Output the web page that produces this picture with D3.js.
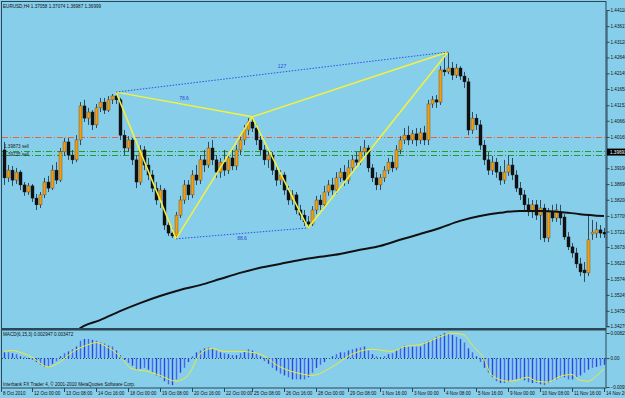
<!DOCTYPE html>
<html>
<head>
<meta charset="utf-8">
<script src="https://cdn.jsdelivr.net/npm/d3@7"></script>
<style>
  body { margin: 0; background: #87ceeb; }
  svg { display: block; font-family: "Liberation Sans", Arial, sans-serif; }
</style>
</head>
<body>
<svg id="chart" width="625" height="398"></svg>
<script>
// EURUSD H4 bars, [open, high, low, close]
const bars = [
  [1.3976,1.4001,1.3867,1.3889],[1.3889,1.3929,1.3876,1.3913],[1.3913,1.3926,1.3864,1.3882],[1.3882,1.3920,1.3870,1.3907],
  [1.3907,1.3913,1.3851,1.3867],[1.3867,1.3876,1.3833,1.3845],[1.3845,1.3873,1.3836,1.3864],[1.3864,1.3870,1.3814,1.3826],
  [1.3826,1.3839,1.3789,1.3805],[1.3805,1.3845,1.3795,1.3836],[1.3836,1.3889,1.3826,1.3876],[1.3876,1.3895,1.3845,1.3857],
  [1.3857,1.3929,1.3851,1.3913],[1.3913,1.3938,1.3870,1.3882],[1.3882,1.3982,1.3876,1.3970],[1.3970,1.4013,1.3957,1.4001],
  [1.4001,1.4013,1.3945,1.3960],[1.3960,1.3976,1.3932,1.3945],[1.3945,1.4022,1.3938,1.4007],[1.4007,1.4125,1.3991,1.4113],
  [1.4113,1.4132,1.4063,1.4075],[1.4075,1.4107,1.4054,1.4094],[1.4094,1.4100,1.4038,1.4054],[1.4054,1.4119,1.4044,1.4107],
  [1.4107,1.4138,1.4094,1.4125],[1.4125,1.4138,1.4088,1.4100],[1.4100,1.4144,1.4094,1.4132],[1.4132,1.4150,1.4119,1.4144],
  [1.4144,1.4156,1.4119,1.4132],[1.4132,1.4138,1.4007,1.4022],[1.4022,1.4038,1.3960,1.3982],[1.3982,1.4019,1.3970,1.4007],
  [1.4007,1.4013,1.3929,1.3945],[1.3945,1.3960,1.3857,1.3876],[1.3876,1.3991,1.3867,1.3976],[1.3976,1.3988,1.3913,1.3929],
  [1.3929,1.3951,1.3882,1.3898],[1.3898,1.3913,1.3845,1.3857],[1.3857,1.3876,1.3805,1.3820],[1.3820,1.3867,1.3795,1.3851],
  [1.3851,1.3857,1.3727,1.3742],[1.3742,1.3758,1.3708,1.3717],[1.3717,1.3733,1.3702,1.3708],[1.3708,1.3783,1.3699,1.3773],
  [1.3773,1.3833,1.3764,1.3820],[1.3820,1.3882,1.3808,1.3867],[1.3867,1.3882,1.3820,1.3836],[1.3836,1.3913,1.3826,1.3898],
  [1.3898,1.3929,1.3867,1.3882],[1.3882,1.3960,1.3870,1.3945],[1.3945,1.3976,1.3907,1.3929],[1.3929,1.4001,1.3920,1.3982],
  [1.3982,1.4007,1.3929,1.3945],[1.3945,1.3960,1.3889,1.3907],[1.3907,1.3951,1.3889,1.3938],[1.3938,1.3976,1.3895,1.3913],
  [1.3913,1.3963,1.3901,1.3951],[1.3951,1.3976,1.3913,1.3926],[1.3926,1.3991,1.3913,1.3976],[1.3976,1.4022,1.3960,1.4007],
  [1.4007,1.4054,1.3991,1.4038],[1.4038,1.4075,1.4022,1.4063],[1.4063,1.4079,1.4032,1.4044],[1.4044,1.4057,1.3991,1.4007],
  [1.4007,1.4019,1.3960,1.3976],[1.3976,1.3991,1.3929,1.3945],[1.3945,1.3976,1.3920,1.3960],[1.3960,1.3970,1.3898,1.3913],
  [1.3913,1.3926,1.3864,1.3882],[1.3882,1.3913,1.3867,1.3898],[1.3898,1.3907,1.3836,1.3851],[1.3851,1.3864,1.3805,1.3820],
  [1.3820,1.3851,1.3805,1.3836],[1.3836,1.3845,1.3776,1.3789],[1.3789,1.3805,1.3758,1.3773],[1.3773,1.3789,1.3739,1.3752],
  [1.3752,1.3770,1.3733,1.3745],[1.3745,1.3801,1.3739,1.3789],[1.3789,1.3833,1.3776,1.3820],[1.3820,1.3836,1.3789,1.3805],
  [1.3805,1.3864,1.3795,1.3845],[1.3845,1.3882,1.3833,1.3867],[1.3867,1.3889,1.3836,1.3851],[1.3851,1.3907,1.3839,1.3889],
  [1.3889,1.3920,1.3876,1.3907],[1.3907,1.3929,1.3864,1.3882],[1.3882,1.3945,1.3870,1.3920],[1.3920,1.3960,1.3907,1.3945],
  [1.3945,1.3970,1.3926,1.3938],[1.3938,1.3988,1.3929,1.3970],[1.3970,1.4007,1.3957,1.3982],[1.3982,1.3991,1.3907,1.3920],
  [1.3920,1.3932,1.3876,1.3889],[1.3889,1.3907,1.3851,1.3867],[1.3867,1.3901,1.3851,1.3889],[1.3889,1.3926,1.3876,1.3913],
  [1.3913,1.3951,1.3901,1.3938],[1.3938,1.3957,1.3907,1.3920],[1.3920,1.3991,1.3913,1.3976],[1.3976,1.4019,1.3963,1.4007],
  [1.4007,1.4044,1.3994,1.4022],[1.4022,1.4051,1.3991,1.4007],[1.4007,1.4038,1.3994,1.4026],[1.4026,1.4044,1.3988,1.4007],
  [1.4007,1.4044,1.3994,1.4029],[1.4029,1.4051,1.3991,1.4007],[1.4007,1.4132,1.3991,1.4119],[1.4119,1.4144,1.4107,1.4132],
  [1.4132,1.4147,1.4107,1.4125],[1.4125,1.4237,1.4116,1.4225],[1.4225,1.4272,1.4206,1.4219],[1.4219,1.4281,1.4212,1.4231],
  [1.4231,1.4250,1.4194,1.4209],[1.4209,1.4244,1.4200,1.4231],[1.4231,1.4237,1.4194,1.4206],[1.4206,1.4219,1.4169,1.4188],
  [1.4188,1.4200,1.4022,1.4038],[1.4038,1.4094,1.4026,1.4075],[1.4075,1.4088,1.4038,1.4054],[1.4054,1.4069,1.3976,1.3991],
  [1.3991,1.4007,1.3929,1.3945],[1.3945,1.3970,1.3898,1.3913],[1.3913,1.3957,1.3898,1.3938],[1.3938,1.3951,1.3889,1.3907],
  [1.3907,1.3926,1.3867,1.3882],[1.3882,1.3945,1.3870,1.3907],[1.3907,1.3960,1.3895,1.3929],[1.3929,1.3951,1.3882,1.3898],
  [1.3898,1.3913,1.3845,1.3857],[1.3857,1.3876,1.3820,1.3836],[1.3836,1.3851,1.3789,1.3805],[1.3805,1.3826,1.3770,1.3783],
  [1.3783,1.3820,1.3764,1.3805],[1.3805,1.3820,1.3758,1.3773],[1.3773,1.3820,1.3696,1.3795],[1.3795,1.3808,1.3689,1.3702],
  [1.3702,1.3795,1.3689,1.3783],[1.3783,1.3805,1.3752,1.3764],[1.3764,1.3808,1.3752,1.3789],[1.3783,1.3805,1.3742,1.3764],
  [1.3767,1.3776,1.3696,1.3705],[1.3705,1.3720,1.3664,1.3674],[1.3674,1.3686,1.3640,1.3655],[1.3655,1.3671,1.3608,1.3621],
  [1.3621,1.3640,1.3583,1.3596],[1.3602,1.3627,1.3565,1.3593],[1.3593,1.3773,1.3583,1.3696],[1.3714,1.3758,1.3696,1.3720],
  [1.3717,1.3752,1.3702,1.3727],[1.3727,1.3742,1.3702,1.3717],[1.3720,1.3733,1.3702,1.3714]
];

// moving average, read at sample bars
const maBar = [18,20,24,29,34,39,44,49,54,59,64,69,74,79,84,89,94,99,104,109,114,119,124,129,134,139,144,150];
const maVal = [1.3412,1.3428,1.3446,1.3474,1.3499,1.3521,1.3540,1.3555,1.3574,1.3593,1.3609,1.3621,1.3633,1.3643,
  1.3652,1.3665,1.3677,1.3696,1.3714,1.3733,1.3755,1.3770,1.3780,1.3786,1.3786,1.3783,1.3776,1.3770];

// MACD(6,15,3) histogram per bar
const macdHist = [
  .0019,.0019,.0016,.0013,.0006,.0003,-.0003,-.0006,-.0013,-.0022,
  -.0029,-.0029,-.0019,-.0010,.0006,.0016,.0022,.0029,.0038,.0057,
  .0063,.0063,.0060,.0057,.0051,.0048,.0041,.0038,.0025,.0010,
  -.0006,-.0016,-.0025,-.0038,-.0035,-.0032,-.0038,-.0048,-.0057,-.0063,
  -.0076,-.0086,-.0089,-.0070,-.0048,-.0032,-.0013,.0006,.0019,.0025,
  .0032,.0035,.0032,.0025,.0019,.0016,.0013,.0010,.0010,.0016,
  .0022,.0029,.0025,.0016,.0006,-.0010,-.0019,-.0032,-.0041,-.0051,
  -.0057,-.0063,-.0070,-.0070,-.0070,-.0070,-.0063,-.0048,-.0032,-.0022,
  -.0013,0,.0006,.0013,.0019,.0019,.0025,.0029,.0032,.0035,
  .0038,.0025,.0013,.0006,.0003,.0006,.0013,.0016,.0025,.0035,
  .0041,.0038,.0038,.0038,.0038,.0051,.0057,.0063,.0070,.0076,
  .0082,.0082,.0076,.0070,.0063,.0051,.0032,.0019,.0006,-.0013,
  -.0032,-.0048,-.0063,-.0076,-.0082,-.0082,-.0079,-.0073,-.0070,-.0070,
  -.0073,-.0079,-.0082,-.0082,-.0086,-.0089,-.0082,-.0076,-.0070,-.0063,
  -.0063,-.0070,-.0070,-.0063,-.0057,-.0048,-.0038,-.0032,-.0029,-.0025,-.0022
];
// signal line, read at sample bars
const sigBar = [0,2,4,7,11,14,17,21,23,26,29,32,36,39,43,46,49,52,55,59,64,69,74,77,82,87,92,97,100,104,
  109,112,115,117,120,122,126,128,131,133,136,139,142,144,146,148,150];
const sigVal = [.0022,.0025,.0019,.0003,-.0029,-.0013,.0019,.0044,.0051,.0035,.0006,-.0035,-.0044,-.0057,-.0076,
  -.0057,.0013,.0032,.0022,.0022,.0013,-.0029,-.0051,-.0057,-.0029,.0013,.0029,.0022,.0038,.0044,
  .0070,.0082,.0076,.0044,-.0003,-.0057,-.0076,-.0073,-.0063,-.0076,-.0079,-.0060,-.0054,-.0073,-.0076,-.0060,-.0035];

// harmonic pattern points X A B C D
const patBar = [28, 43, 62, 76, 111];
const patPrice = [1.4156, 1.3699, 1.4079, 1.3733, 1.4281];

const priceTicks = [1.44118,1.43615,1.43128,1.42640,1.42145,1.41658,1.41152,1.40668,1.40165,1.39190,
  1.38696,1.38208,1.37705,1.37218,1.36738,1.36235,1.35740,1.35245,1.34750,1.34270];
const timeBar = [7,15,23,31,39,47,55,62,70,78,86,94,102,110,118,126,134,142,150];
const timeText = ["12 Oct 00:00","13 Oct 08:00","14 Oct 16:00","18 Oct 00:00","19 Oct 08:00","20 Oct 16:00",
  "22 Oct 00:00","25 Oct 08:00","26 Oct 16:00","28 Oct 00:00","29 Oct 08:00","1 Nov 16:00","3 Nov 00:00",
  "4 Nov 08:00","5 Nov 16:00","9 Nov 00:00","10 Nov 08:00","11 Nov 16:00","14 Nov 20:00"];

const redLine = 1.40165, greenLines = [1.39739, 1.39595], bidPrice = 1.39693;

const W = 625, H = 398;
const L = 2, R = 606, mainTop = 2, mainBot = 328, macdTop = 330, macdBot = 388;
const frameCol = "#2c4656", textCol = "#111", fs = 4.6;

const svg = d3.select("#chart");
const x = d3.scaleLinear().domain([-0.5, bars.length - 0.5]).range([L, R]);
const y = d3.scaleLinear().domain([1.34270, 1.44118]).range([326.2, 10]);
const ym = d3.scaleLinear().domain([-0.0095, 0.00825]).range([387, 333]);

svg.append("rect").attr("width", W).attr("height", H).attr("fill", "#87ceeb");

const defs = svg.append("defs");
defs.append("clipPath").attr("id", "clipMain").append("rect")
  .attr("x", L).attr("y", mainTop).attr("width", R - L).attr("height", mainBot - mainTop);
defs.append("clipPath").attr("id", "clipMacd").append("rect")
  .attr("x", L).attr("y", macdTop).attr("width", R - L).attr("height", macdBot - macdTop);

const main = svg.append("g").attr("clip-path", "url(#clipMain)");

// horizontal lines
main.append("line").attr("x1", L).attr("x2", R)
  .attr("y1", Math.round(y(redLine)) + 0.5).attr("y2", Math.round(y(redLine)) + 0.5)
  .attr("stroke", "#f0603a").attr("stroke-dasharray", "6,2,1,2");
main.selectAll(".gl").data(greenLines).enter().append("line")
  .attr("x1", L).attr("x2", R)
  .attr("y1", d => Math.round(y(d)) + 0.5).attr("y2", d => Math.round(y(d)) + 0.5)
  .attr("stroke", "#1f9e2a").attr("stroke-dasharray", "6,2,1,2");

// candles
const cg = main.append("g");
cg.selectAll(".wick").data(bars).enter().append("line")
  .attr("x1", (d, i) => Math.round(x(i)) + 0.5).attr("x2", (d, i) => Math.round(x(i)) + 0.5)
  .attr("y1", d => y(d[1])).attr("y2", d => y(d[2]))
  .attr("stroke", "#34495a").attr("stroke-width", 1);
cg.selectAll(".body").data(bars).enter().append("rect")
  .attr("x", (d, i) => Math.round(x(i)) - 1)
  .attr("y", d => y(Math.max(d[0], d[3])))
  .attr("width", 3)
  .attr("height", d => Math.max(1, Math.abs(y(d[0]) - y(d[3]))))
  .attr("fill", d => d[3] >= d[0] ? "#f39c12" : "#111")
  .attr("stroke", d => d[3] >= d[0] ? "#5a4a20" : "#111").attr("stroke-width", 0.4);

// moving average
main.append("path")
  .datum(maBar.map((b, i) => [b, maVal[i]]))
  .attr("d", d3.line().x(d => x(d[0])).y(d => y(d[1])).curve(d3.curveMonotoneX))
  .attr("fill", "none").attr("stroke", "#111").attr("stroke-width", 2);

// pattern
const pts = patBar.map((b, i) => [x(b), y(patPrice[i])]);
const yellowPairs = [[0,1],[1,2],[2,3],[3,4],[0,2],[2,4]];
main.selectAll(".yl").data(yellowPairs).enter().append("line")
  .attr("x1", d => pts[d[0]][0]).attr("y1", d => pts[d[0]][1])
  .attr("x2", d => pts[d[1]][0]).attr("y2", d => pts[d[1]][1])
  .attr("stroke", "#f4f23a").attr("stroke-width", 1.5);
main.selectAll(".bl").data([[0,4],[1,3]]).enter().append("line")
  .attr("x1", d => pts[d[0]][0]).attr("y1", d => pts[d[0]][1])
  .attr("x2", d => pts[d[1]][0]).attr("y2", d => pts[d[1]][1])
  .attr("stroke", "#3050e8").attr("stroke-width", 1).attr("stroke-dasharray", "1.5,1.5");
const ratioLabels = [["127", 0, 4], ["78.6", 0, 2], ["88.6", 1, 3]];
main.selectAll(".rl").data(ratioLabels).enter().append("text")
  .attr("x", d => (pts[d[1]][0] + pts[d[2]][0]) / 2)
  .attr("y", d => (pts[d[1]][1] + pts[d[2]][1]) / 2 + (d[0] === "88.6" ? 7 : -4))
  .attr("text-anchor", "middle").attr("font-size", 5).attr("fill", "#2a48d8")
  .text(d => d[0]);

// MACD panel
const mg = svg.append("g").attr("clip-path", "url(#clipMacd)");
mg.append("line").attr("x1", L).attr("x2", R).attr("y1", Math.round(ym(0)) + 0.5).attr("y2", Math.round(ym(0)) + 0.5)
  .attr("stroke", "#2c4656").attr("stroke-dasharray", "1,2");
mg.selectAll(".hb").data(macdHist).enter().append("line")
  .attr("x1", (d, i) => Math.round(x(i)) + 0.5).attr("x2", (d, i) => Math.round(x(i)) + 0.5)
  .attr("y1", ym(0)).attr("y2", d => ym(d))
  .attr("stroke", (d, i) => i % 2 ? "#4a64f0" : "#2a44e8").attr("stroke-width", 1.4);
mg.append("path")
  .datum(sigBar.map((b, i) => [b, sigVal[i]]))
  .attr("d", d3.line().x(d => x(d[0])).y(d => ym(d[1])).curve(d3.curveMonotoneX))
  .attr("fill", "none").attr("stroke", "#eaea3c").attr("stroke-width", 1);

// frame and separators
svg.append("rect").attr("x", 1.5).attr("y", 1.5).attr("width", R - 1.5).attr("height", macdBot - 1.5)
  .attr("fill", "none").attr("stroke", frameCol);
svg.append("rect").attr("x", 1).attr("y", mainBot).attr("width", R - 1).attr("height", 2.5).attr("fill", frameCol);

// price axis
const pa = svg.append("g").attr("transform", `translate(${R + 0.5},0)`)
  .call(d3.axisRight(y).tickValues(priceTicks).tickSize(3).tickFormat(d3.format(".5f")));
pa.select(".domain").attr("stroke", frameCol);
pa.selectAll("line").attr("stroke", frameCol);
pa.selectAll("text").attr("font-size", fs).attr("font-family", "Liberation Sans, Arial, sans-serif")
  .attr("fill", textCol).attr("x", 4);

// bid label box
svg.append("rect").attr("x", R + 1).attr("y", y(bidPrice) - 3.5).attr("width", 19).attr("height", 7).attr("fill", "#000");
svg.append("text").attr("x", R + 4).attr("y", y(bidPrice) + 1.7).attr("font-size", fs).attr("fill", "#fff")
  .text(bidPrice.toFixed(5));

// macd axis
const macdTicks = [0.00825, 0, -0.0095];
const ma = svg.append("g").attr("transform", `translate(${R + 0.5},0)`)
  .call(d3.axisRight(ym).tickValues(macdTicks).tickSize(3).tickFormat(d => d === 0 ? "0.00" : d3.format(".5f")(d)));
ma.select(".domain").remove();
ma.selectAll("line").attr("stroke", frameCol);
ma.selectAll("text").attr("font-size", fs).attr("font-family", "Liberation Sans, Arial, sans-serif")
  .attr("fill", textCol).attr("x", 4);

// time axis
const tg = svg.append("g");
const timeAll = [[0, "8 Oct 2010"]].concat(timeBar.map((b, i) => [b, timeText[i]]));
tg.selectAll("line").data(timeAll).enter().append("line")
  .attr("x1", (d, i) => i ? Math.round(x(d[0])) + 0.5 : 1.5).attr("x2", (d, i) => i ? Math.round(x(d[0])) + 0.5 : 1.5)
  .attr("y1", macdBot).attr("y2", macdBot + 4).attr("stroke", frameCol);
tg.selectAll("text").data(timeAll).enter().append("text")
  .attr("x", (d, i) => (i ? Math.round(x(d[0])) : 1) + 2).attr("y", 395)
  .attr("font-size", fs).attr("fill", textCol).text(d => d[1]);

// captions
svg.append("text").attr("x", 3).attr("y", 7.5).attr("font-size", fs).attr("fill", textCol)
  .text("EURUSD,H4  1.37058 1.37074 1.36987 1.36999");
svg.append("text").attr("x", 3).attr("y", 336).attr("font-size", fs).attr("fill", textCol)
  .text("MACD(6,15,3) 0.002947 0.003472");
svg.append("text").attr("x", 3).attr("y", 386).attr("font-size", fs).attr("fill", textCol)
  .text("Interbank FX Trader 4, \u00a9 2001-2010 MetaQuotes Software Corp.");
svg.selectAll(".ol").data([["1.39873 sell", greenLines[0]], ["1.39735 sell", greenLines[1]]]).enter().append("text")
  .attr("x", 4).attr("y", (d, i) => y(d[1]) - (i ? -0.5 : 2.5))
  .attr("font-size", fs).attr("fill", "#222").text(d => d[0]);
</script>
</body>
</html>
